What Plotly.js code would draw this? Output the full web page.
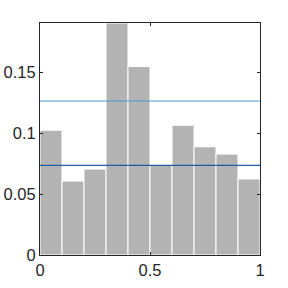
<!DOCTYPE html>
<html>
<head>
<meta charset="utf-8">
<script src="https://cdn.plot.ly/plotly-3.0.1.min.js"></script>
<style>html,body{margin:0;padding:0;background:#fff;}#chart{width:288px;height:288px;}</style>
</head>
<body>
<div id="chart"></div>
<script>
const binCenters = [0.05, 0.15, 0.25, 0.35, 0.45, 0.55, 0.65, 0.75, 0.85, 0.95];
const binValues = [0.1024, 0.0607, 0.0705, 0.1904, 0.1547, 0.0738, 0.1065, 0.0888, 0.0828, 0.0624];
const lineX = [0, 1];
const upperLevel = 0.1264;
const lowerLevel = 0.0735;
const yTickVals = [0, 0.05, 0.1, 0.15];
const yTickText = ["0", "0.05", "0.1", "0.15"];
const xTickVals = [0, 0.5, 1];
const xTickText = ["0", "0.5", "1"];

const traces = [
  {type: 'bar', x: binCenters, y: binValues, width: 0.1,
   marker: {color: '#b3b3b3', line: {color: '#ffffff', width: 1}}, hoverinfo: 'none'},
  {type: 'scatter', mode: 'lines', x: lineX, y: [upperLevel, upperLevel],
   line: {color: '#4a9ad4', width: 1.2}, hoverinfo: 'none'},
  {type: 'scatter', mode: 'lines', x: lineX, y: [lowerLevel, lowerLevel],
   line: {color: '#1a5fa3', width: 1.2}, hoverinfo: 'none'}
];
const axisCommon = {showline: true, linecolor: '#262626', linewidth: 1, mirror: 'ticks',
  ticks: 'inside', ticklen: 3, tickcolor: '#262626', showgrid: false, zeroline: false,
  tickfont: {family: 'Liberation Sans, Arial, sans-serif', size: 16.5, color: '#262626'}};
const layout = {
  width: 288, height: 288, showlegend: false, bargap: 0,
  margin: {l: 39.5, r: 27.5, t: 22.5, b: 32.5},
  paper_bgcolor: '#ffffff', plot_bgcolor: '#ffffff',
  xaxis: Object.assign({}, axisCommon, {range: [0, 1], tickvals: xTickVals, ticktext: xTickText}),
  yaxis: Object.assign({}, axisCommon, {range: [0, 0.1904], tickvals: yTickVals, ticktext: yTickText})
};
Plotly.newPlot('chart', traces, layout, {staticPlot: true, displayModeBar: false});
</script>
</body>
</html>
